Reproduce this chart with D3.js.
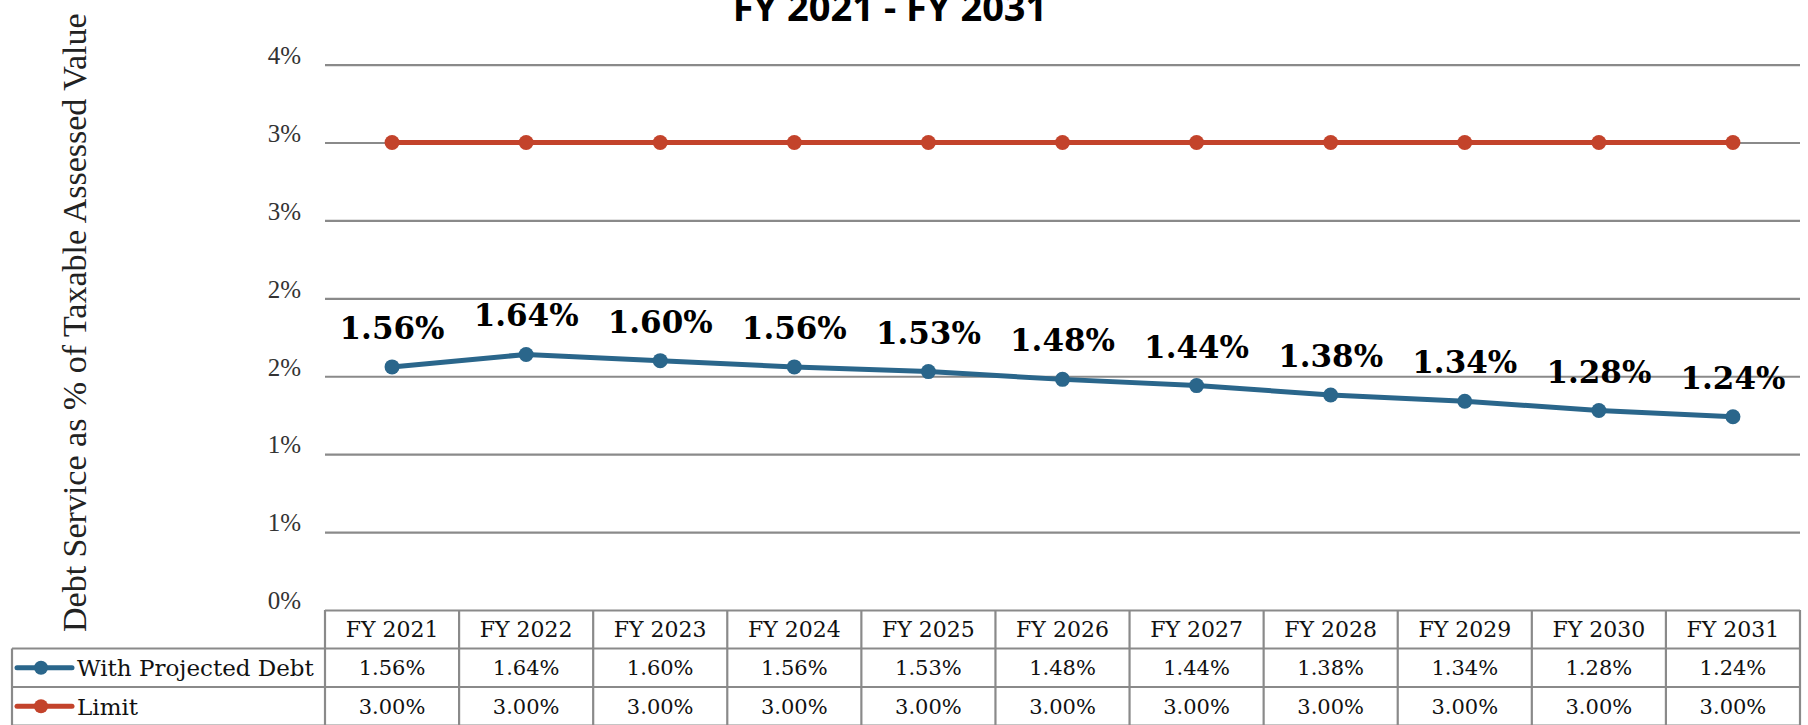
<!DOCTYPE html>
<html>
<head>
<meta charset="utf-8">
<script src="https://cdn.jsdelivr.net/npm/d3@7"></script>
<style>
  body { margin: 0; background: #fff; }
  svg { display: block; }
</style>
</head>
<body>
<svg id="chart" width="1808" height="725"></svg>
<script>
// chart values
var years = ['FY 2021', 'FY 2022', 'FY 2023', 'FY 2024', 'FY 2025', 'FY 2026',
  'FY 2027', 'FY 2028', 'FY 2029', 'FY 2030', 'FY 2031']
var withDebt = [1.56, 1.64, 1.60, 1.56, 1.53, 1.48, 1.44, 1.38, 1.34, 1.28, 1.24]
var limit = [3.00, 3.00, 3.00, 3.00, 3.00, 3.00, 3.00, 3.00, 3.00, 3.00, 3.00]
var yTicks = [0, 0.5, 1, 1.5, 2, 2.5, 3, 3.5]
var seriesNames = ['With Projected Debt', 'Limit']

var blue = '#2a668b'
var red = '#c3432b'
var grid = '#8a8a8a'

var svg = d3.select('#chart')

var plotLeft = 325
var plotRight = 1800
var plotTop = 64.6
var plotBottom = 610
var rowH = 38.5

var xPositionScale = d3.scaleBand().domain(years).range([plotLeft, plotRight])
var yPositionScale = d3.scaleLinear().domain([0, 3.5]).range([plotBottom, plotTop])

// gridlines + y labels
var yAxis = d3.axisLeft(yPositionScale)
  .tickValues(yTicks)
  .tickSize(-(plotRight - plotLeft))
  .tickPadding(24)
  .tickFormat(d => Math.round(d) + '%')

var yg = svg.append('g')
  .attr('class', 'axis y-axis')
  .attr('transform', `translate(${plotLeft},0)`)
  .call(yAxis)
yg.select('.domain').remove()
yg.selectAll('.tick line').attr('stroke', grid).attr('stroke-width', 2.2)
yg.selectAll('.tick text')
  .attr('fill', '#333')
  .attr('font-family', 'Liberation Serif')
  .attr('font-size', 25)
  .attr('dy', '-0.05em')

// title (cut off at the top, as in the original)
svg.append('text')
  .attr('x', 890)
  .attr('y', 21)
  .attr('text-anchor', 'middle')
  .attr('font-family', 'Open Sans')
  .attr('font-weight', 'bold')
  .attr('font-size', 38)
  .text('FY 2021 - FY 2031')

// y axis title
svg.append('text')
  .attr('transform', 'translate(86,632) rotate(-90)')
  .attr('font-family', 'Liberation Serif')
  .attr('font-size', 34)
  .attr('fill', '#222')
  .text('Debt Service as % of Taxable Assessed Value')

var cx = (d, i) => xPositionScale(years[i]) + xPositionScale.bandwidth() / 2

var line = d3.line()
  .x(cx)
  .y(d => yPositionScale(d))

function drawSeries(values, color) {
  svg.append('path')
    .datum(values)
    .attr('d', line)
    .attr('fill', 'none')
    .attr('stroke', color)
    .attr('stroke-width', 5)
  svg.append('g')
    .selectAll('circle')
    .data(values)
    .enter()
    .append('circle')
    .attr('cx', cx)
    .attr('cy', d => yPositionScale(d))
    .attr('r', 7.5)
    .attr('fill', color)
}
drawSeries(limit, red)
drawSeries(withDebt, blue)

// data labels on projected debt
svg.append('g')
  .selectAll('text')
  .data(withDebt)
  .enter()
  .append('text')
  .attr('x', cx)
  .attr('y', d => yPositionScale(d) - 28)
  .attr('text-anchor', 'middle')
  .attr('font-family', 'DejaVu Serif')
  .attr('font-weight', 'bold')
  .attr('font-size', 31)
  .text(d => d.toFixed(2) + '%')

// data table
var table = svg.append('g').attr('class', 'table')
var legendLeft = 12
var rows = [withDebt, limit]
var colors = [blue, red]

// header cells
table.selectAll('.head')
  .data(years)
  .enter()
  .append('text')
  .attr('x', d => xPositionScale(d) + xPositionScale.bandwidth() / 2)
  .attr('y', plotBottom + rowH / 2)
  .attr('dy', '0.36em')
  .attr('text-anchor', 'middle')
  .attr('font-family', 'DejaVu Serif')
  .attr('font-size', 22)
  .attr('fill', '#111')
  .text(d => d)

rows.forEach(function(values, r) {
  var yc = plotBottom + rowH * (r + 1) + rowH / 2
  table.append('g')
    .selectAll('text')
    .data(values)
    .enter()
    .append('text')
    .attr('x', cx)
    .attr('y', yc)
    .attr('dy', '0.36em')
    .attr('text-anchor', 'middle')
    .attr('font-family', 'DejaVu Serif')
    .attr('font-size', 21)
    .attr('fill', '#111')
    .text(d => d.toFixed(2) + '%')

  // legend key
  table.append('line')
    .attr('x1', legendLeft + 5).attr('x2', legendLeft + 60)
    .attr('y1', yc).attr('y2', yc)
    .attr('stroke', colors[r]).attr('stroke-width', 5)
    .attr('stroke-linecap', 'round')
  table.append('circle')
    .attr('cx', legendLeft + 29).attr('cy', yc).attr('r', 7)
    .attr('fill', colors[r])
  table.append('text')
    .attr('x', legendLeft + 65)
    .attr('y', yc)
    .attr('dy', '0.36em')
    .attr('font-family', 'DejaVu Serif')
    .attr('font-size', 23)
    .attr('fill', '#111')
    .text(seriesNames[r])
})

// table borders
function hline(x1, x2, y) {
  table.append('line').attr('x1', x1).attr('x2', x2).attr('y1', y).attr('y2', y)
    .attr('stroke', grid).attr('stroke-width', 2.2)
}
function vline(x, y1, y2) {
  table.append('line').attr('x1', x).attr('x2', x).attr('y1', y1).attr('y2', y2)
    .attr('stroke', grid).attr('stroke-width', 2.2)
}
hline(legendLeft, plotRight, plotBottom + rowH)
hline(legendLeft, plotRight, plotBottom + rowH * 2)
hline(legendLeft, plotRight, plotBottom + rowH * 3)
vline(legendLeft, plotBottom + rowH, plotBottom + rowH * 3)
years.forEach(function(y) {
  vline(xPositionScale(y), plotBottom, plotBottom + rowH * 3)
})
vline(plotRight, plotBottom, plotBottom + rowH * 3)
</script>
</body>
</html>
